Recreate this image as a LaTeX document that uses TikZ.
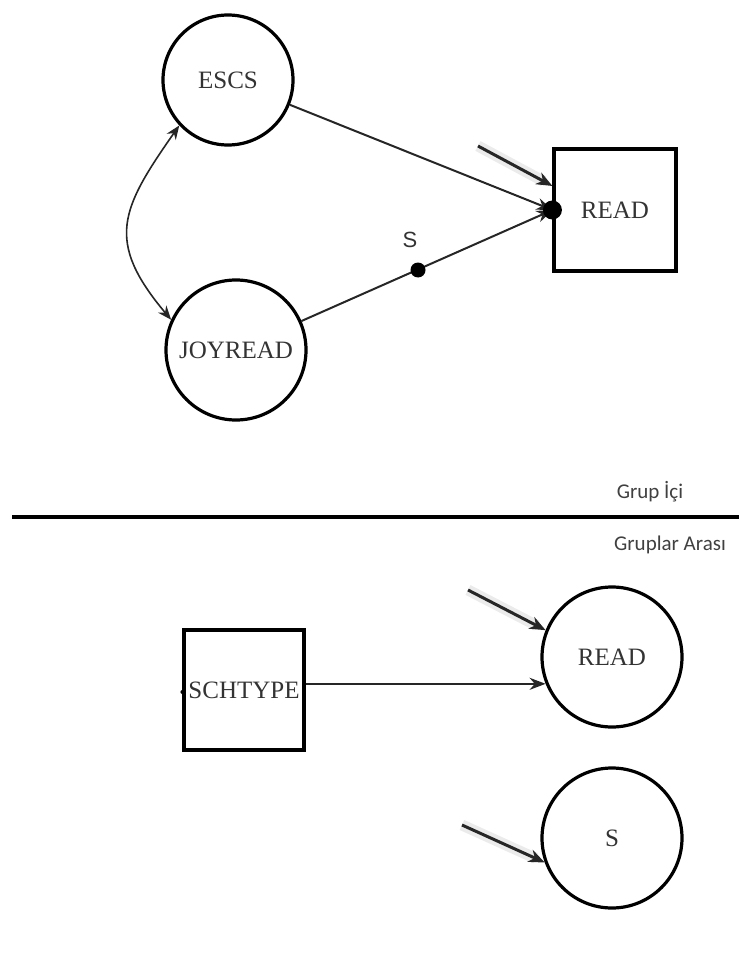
\documentclass[tikz,border=0pt]{standalone}
\usepackage{fontspec}
\setmainfont{Liberation Serif}
\newfontfamily\grpfont{Carlito}
\newfontfamily\lblfont{Liberation Sans}
\usetikzlibrary{arrows.meta,positioning}
\tikzset{
    latent/.style={
        circle,
        draw=black,
        line width=3.2pt,
        minimum size=140pt,
        inner sep=0pt,
        text=black!80,
        font=\fontsize{25}{27}\selectfont,
    },
    observed/.style={
        rectangle,
        draw=black,
        line width=3.2pt,
        minimum size=122pt,
        inner sep=0pt,
        text=black!80,
        font=\fontsize{25}{27}\selectfont,
    },
    path/.style={
        line width=2pt,
        draw=black!85,
        -{Stealth[length=16pt,width=12pt]},
    },
    resid/.style={
        line width=3pt,
        draw=black!85,
        -{Stealth[length=16pt,width=13pt]},
        preaction={draw=black!8, line width=11pt, arrows=-, shorten >=10pt},
    },
}

\begin{document}
\begin{tikzpicture}[x=1pt,y=-1pt]
    \useasboundingbox (0,0) rectangle (739,976);
    % within-group model
    \node [latent, minimum size=130pt] (ESCS) at (228,80) {ESCS};
    \node [latent] (JOY) at (236,350) {JOYREAD};
    \node [observed] (READ) at (615,210) {READ};
    \draw[path] (ESCS) -- (READ.west);
    \draw[path] (JOY) -- (READ.west);
    \draw[line width=1.6pt, draw=black!85, {Stealth[length=14pt,width=11pt]}-{Stealth[length=14pt,width=11pt]}]
        (ESCS.223) to[out=235, in=130, looseness=1.35] (JOY.155);
    \node [circle, fill=black, minimum size=19pt, inner sep=0pt] (dotR) at (READ.west) {};
    \node [circle, fill=black, minimum size=15pt, inner sep=0pt] (slope) at (418,270) {};
    \node [font=\lblfont\fontsize{22}{24}\selectfont, text=black!80, above=11pt of slope, xshift=-8pt] (Slbl) {S};
    \coordinate (eREAD) at (478,146);
    \draw[resid] (eREAD) -- (READ.159);
    % separator
    \coordinate (sepL) at (12,517);
    \coordinate (sepR) at (739,517);
    \draw[line width=3.5pt] (sepL) -- (sepR);
    \node [font=\grpfont\fontsize{21}{23}\selectfont, text=black!75] (within) at (650,492) {Grup İçi};
    \node [font=\grpfont\fontsize{21}{23}\selectfont, text=black!75] (between) at (670,545) {Gruplar Arası};
    % between-group model
    \node [observed, minimum size=120pt] (SCH) at (244,690) {SCHTYPE};
    \node [latent] (READB) at (612,657) {READ};
    \node [latent] (SB) at (612,838) {S};
    \fill (SCH.west) ++(0,2) circle (2pt);
    \draw[path] (READB.202 -| SCH.east) -- (READB.202);
    \coordinate (eREADB) at (468,590);
    \coordinate (eSB) at (462,825);
    \draw[resid] (eREADB) -- (READB.158);
    \draw[resid] (eSB) -- (SB.200);
\end{tikzpicture}
\end{document}
